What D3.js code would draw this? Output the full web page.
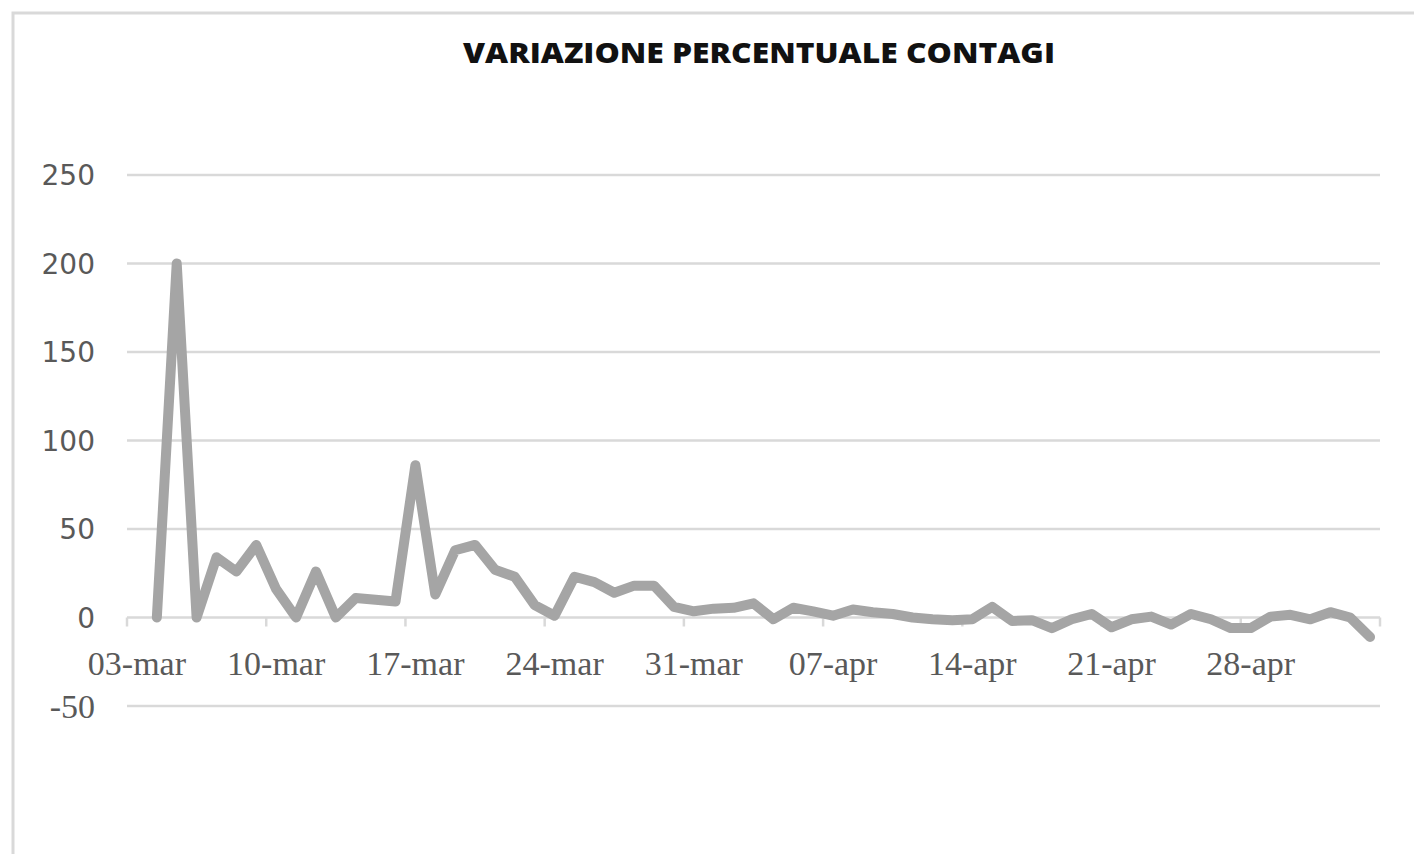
<!DOCTYPE html>
<html>
<head>
<meta charset="utf-8">
<script src="https://cdn.jsdelivr.net/npm/d3@7"></script>
<style>
  body { margin: 0; background: #fff; }
</style>
</head>
<body>
<div id="chart"></div>
<script>
// Data - variazione percentuale contagi, one value per day (first day blank)
const startDate = new Date(2020, 2, 3);
const endDate = new Date(2020, 4, 5);
const days = d3.timeDay.range(startDate, endDate);
const fmt = d3.timeFormat("%d-%b");
const monthIt = { Mar: "mar", Apr: "apr", May: "mag" };
const dayLabels = days.map(d => fmt(d).replace(/[A-Z][a-z]+/, m => monthIt[m]));

const values = [null, 0, 200, 0, 34, 26, 41, 16, 0, 26, 0, 11, 10, 9, 86, 13,
    38, 41, 27, 23, 7, 1, 23, 20, 14, 18, 18, 6, 3.5, 5, 5.5, 8, -1, 5.5, 3.5,
    1, 4.5, 3, 2, 0, -1, -1.5, -1, 6, -2, -1.5, -6, -1, 2, -5.5, -1, 0.5, -4,
    2, -1, -6, -6, 0.5, 1.5, -1, 3, 0, -11];

const xTickLabels = ["03-mar", "10-mar", "17-mar", "24-mar", "31-mar", "07-apr", "14-apr", "21-apr", "28-apr"];
const yTicks = [-50, 0, 50, 100, 150, 200, 250];

const data = dayLabels.map((d, i) => ({ day: d, value: values[i] }));

const width = 1414, height = 854;

const svg = d3.select("#chart")
    .append("svg")
    .attr("width", width)
    .attr("height", height);

// Frame
svg.append("rect")
    .attr("x", 13)
    .attr("y", 13)
    .attr("width", 1420)
    .attr("height", 900)
    .attr("fill", "#fff")
    .attr("stroke", "#d9d9d9")
    .attr("stroke-width", 3);

// Title
svg.append("text")
    .attr("x", 759)
    .attr("y", 63)
    .attr("text-anchor", "middle")
    .attr("textLength", 592)
    .attr("lengthAdjust", "spacingAndGlyphs")
    .style("font-family", "'Open Sans', sans-serif")
    .style("font-weight", 800)
    .style("font-size", "28px")
    .style("fill", "#111")
    .text("VARIAZIONE PERCENTUALE CONTAGI");

// Scales
const xScale = d3.scaleBand()
    .domain(dayLabels)
    .range([127, 1380])
    .padding(0);

const yScale = d3.scaleLinear()
    .domain([-50, 250])
    .range([706, 175]);

// Gridlines
svg.append("g")
    .selectAll("line")
    .data(yTicks)
    .enter()
    .append("line")
    .attr("x1", 127)
    .attr("x2", 1380)
    .attr("y1", d => yScale(d))
    .attr("y2", d => yScale(d))
    .attr("stroke", "#d9d9d9")
    .attr("stroke-width", 2.5);

// Y labels
svg.append("g")
    .selectAll("text")
    .data(yTicks)
    .enter()
    .append("text")
    .attr("x", 95)
    .attr("y", d => yScale(d))
    .attr("dy", "0.36em")
    .attr("text-anchor", "end")
    .style("font-family", d => d < 0 ? "'Liberation Serif', serif" : "'DejaVu Sans', sans-serif")
    .style("font-size", d => d < 0 ? "34px" : "28px")
    .style("fill", "#595959")
    .text(d => d);

// X axis tick marks at week boundaries
const tickDays = dayLabels.filter((d, i) => i % 7 === 0);
svg.append("g")
    .selectAll("line")
    .data(tickDays.concat(["end"]))
    .enter()
    .append("line")
    .attr("x1", d => d === "end" ? 1380 : xScale(d))
    .attr("x2", d => d === "end" ? 1380 : xScale(d))
    .attr("y1", yScale(0))
    .attr("y2", yScale(0) + 9)
    .attr("stroke", "#d9d9d9")
    .attr("stroke-width", 2.5);

// X labels
svg.append("g")
    .selectAll("text")
    .data(xTickLabels)
    .enter()
    .append("text")
    .attr("x", d => xScale(d) + xScale.bandwidth() / 2)
    .attr("y", 675)
    .attr("text-anchor", "middle")
    .style("font-family", "'Liberation Serif', serif")
    .style("font-size", "34px")
    .style("fill", "#595959")
    .text(d => d);

// Line
const line = d3.line()
    .defined(d => d.value !== null)
    .x(d => xScale(d.day) + xScale.bandwidth() / 2)
    .y(d => yScale(d.value));

svg.append("path")
    .datum(data)
    .attr("d", line)
    .attr("fill", "none")
    .attr("stroke", "#a5a5a5")
    .attr("stroke-width", 10)
    .attr("stroke-linejoin", "round")
    .attr("stroke-linecap", "round");
</script>
</body>
</html>
